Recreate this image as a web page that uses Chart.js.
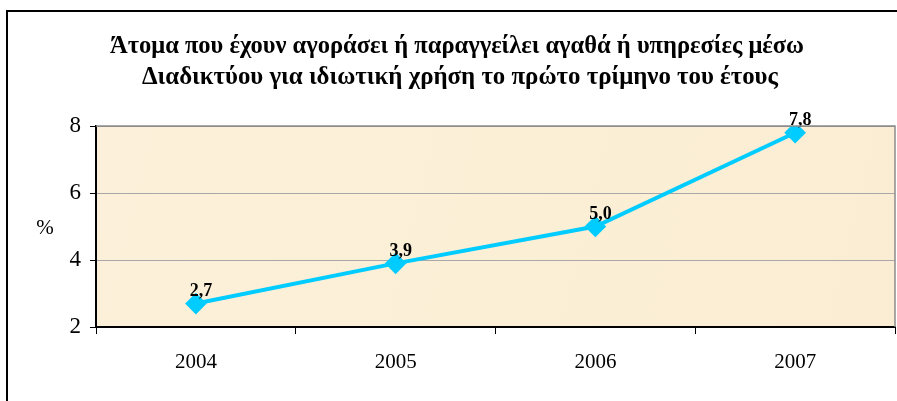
<!DOCTYPE html>
<html lang="el">
<head>
    <meta charset="UTF-8">
    <title>Άτομα που έχουν αγοράσει αγαθά μέσω Διαδικτύου</title>
    <style>
        html, body { margin: 0; padding: 0; background: #ffffff; overflow: hidden; }
        canvas { display: block; }
    </style>
</head>
<body>
    <canvas id="webChart" width="897" height="401"></canvas>

    <script src="https://cdn.jsdelivr.net/npm/chart.js"></script>
    <script>
        // chart data
        const years = ['2004', '2005', '2006', '2007'];
        const percentValues = [2.7, 3.9, 5.0, 7.8];
        const yTicks = [2, 4, 6, 8];
        const titleLines = [
            'Άτομα που έχουν αγοράσει ή παραγγείλει αγαθά ή υπηρεσίες μέσω',
            'Διαδικτύου για ιδιωτική χρήση το πρώτο τρίμηνο του έτους'
        ];
        const yAxisLabel = '%';

        const serif = '"Liberation Serif", "Times New Roman", serif';
        const plotRight = 895;

        // frame, title, plot background, % label
        const decorPlugin = {
            id: 'decor',
            afterLayout(chart) {
                // the layout keeps some right padding for the year labels; stretch the plot to the edge
                const area = chart.chartArea;
                if (area.right === plotRight) return;
                area.right = plotRight;
                area.width = area.right - area.left;
                const x = chart.scales.x;
                x.right = plotRight;
                x.width = x.right - x.left;
                x.configure();
                const y = chart.scales.y;
                y.configure();
            },
            beforeDraw(chart) {
                const ctx = chart.ctx;
                const area = chart.chartArea;
                ctx.save();
                ctx.fillStyle = '#ffffff';
                ctx.fillRect(0, 0, chart.width, chart.height);
                // outer frame (only left and top edges are in view)
                ctx.strokeStyle = '#000000';
                ctx.lineWidth = 2;
                ctx.beginPath();
                ctx.moveTo(7, chart.height);
                ctx.lineTo(7, 11);
                ctx.lineTo(chart.width, 11);
                ctx.stroke();
                // plot area fill
                const grad = ctx.createLinearGradient(area.left, area.top, area.right, area.bottom);
                grad.addColorStop(0, '#fcf0da');
                grad.addColorStop(0.5, '#fbefd6');
                grad.addColorStop(1, '#faedd3');
                ctx.fillStyle = grad;
                ctx.fillRect(area.left, area.top, area.right - area.left, area.bottom - area.top);
                // title
                ctx.fillStyle = '#000000';
                ctx.font = 'bold 25px ' + serif;
                ctx.textAlign = 'center';
                ctx.textBaseline = 'alphabetic';
                const targetW = [694, 636];
                const centerX = [457, 460];
                titleLines.forEach(function(line, i) {
                    const w = ctx.measureText(line).width;
                    const sx = targetW[i] / w;
                    ctx.save();
                    ctx.translate(centerX[i], 53 + i * 31);
                    ctx.scale(sx, 1);
                    ctx.fillText(line, 0, 0);
                    ctx.restore();
                });
                // y axis label
                ctx.font = '21px ' + serif;
                ctx.textBaseline = 'middle';
                ctx.fillText(yAxisLabel, 45, 228);
                ctx.restore();
            },
            afterDatasetsDraw(chart) {
                const ctx = chart.ctx;
                const meta = chart.getDatasetMeta(0);
                ctx.save();
                ctx.fillStyle = '#000000';
                ctx.font = 'bold 18px ' + serif;
                ctx.textAlign = 'center';
                ctx.textBaseline = 'bottom';
                meta.data.forEach(function(pt, i) {
                    const txt = percentValues[i].toFixed(1).replace('.', ',');
                    ctx.fillText(txt, pt.x + 5, pt.y - 3);
                });
                ctx.restore();
            },
            afterDraw(chart) {
                const ctx = chart.ctx;
                const area = chart.chartArea;
                ctx.save();
                ctx.strokeStyle = '#8c8c8c';
                ctx.lineWidth = 1.5;
                ctx.beginPath();
                ctx.moveTo(area.left, area.top);
                ctx.lineTo(area.right, area.top);
                ctx.lineTo(area.right, area.bottom);
                ctx.stroke();
                ctx.restore();
            }
        };

        new Chart(document.getElementById('webChart').getContext('2d'), {
            type: 'line',
            data: {
                labels: years,
                datasets: [{
                    data: percentValues,
                    borderColor: '#00ccff',
                    backgroundColor: '#00ccff',
                    borderWidth: 4,
                    pointStyle: 'rectRot',
                    pointRadius: 8,
                    pointHoverRadius: 8,
                    tension: 0,
                    fill: false
                }]
            },
            options: {
                responsive: false,
                animation: false,
                devicePixelRatio: 1,
                layout: { padding: { left: 0, top: 126, right: 2, bottom: 0 } },
                plugins: {
                    legend: { display: false },
                    title: { display: false },
                    tooltip: { enabled: false }
                },
                scales: {
                    x: {
                        offset: true,
                        grid: {
                            offset: true,
                            drawOnChartArea: false,
                            color: '#000000',
                            tickLength: 7
                        },
                        border: { color: '#000000', width: 2 },
                        ticks: {
                            color: '#000000',
                            padding: 16,
                            font: { family: serif, size: 21 }
                        },
                        afterFit(scale) { scale.height = 74; }
                    },
                    y: {
                        min: 2,
                        max: 8,
                        afterBuildTicks(scale) {
                            scale.ticks = yTicks.map(v => ({ value: v }));
                        },
                        grid: {
                            color: function(c) {
                                return c.tick && c.tick.value === 8 ? '#8c8c8c' : '#a8a8a8';
                            },
                            tickColor: '#000000',
                            tickLength: 6
                        },
                        border: { color: '#000000', width: 2 },
                        ticks: {
                            color: '#000000',
                            padding: 9,
                            font: { family: serif, size: 23 }
                        },
                        afterFit(scale) { scale.width = 96; }
                    }
                }
            },
            plugins: [decorPlugin]
        });
    </script>
</body>
</html>
